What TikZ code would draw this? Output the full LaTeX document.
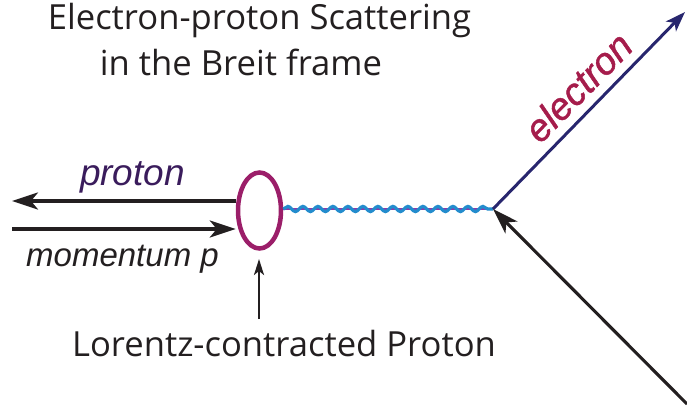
\documentclass[tikz,border=0pt]{standalone}
\usepackage{fontspec}
\setmainfont{Open Sans}
\newfontfamily\helv{Liberation Sans}
\newfontfamily\helvfat[FakeBold=1.2]{Liberation Sans}
\usetikzlibrary{arrows.meta,decorations.pathmorphing,shapes.geometric}
\definecolor{txtgray}{RGB}{35,31,32}
\definecolor{ellcol}{RGB}{155,30,105}
\definecolor{navy}{RGB}{40,38,110}
\definecolor{elred}{RGB}{165,28,75}
\definecolor{protpurple}{RGB}{58,28,92}
\definecolor{wavblue}{RGB}{35,140,205}
\definecolor{wavpurple}{RGB}{140,60,170}
\tikzset{
  titletxt/.style={font=\fontsize{34.6}{40}\selectfont, text=txtgray, inner sep=0pt, anchor=base},
  ital/.style={inner sep=0pt, anchor=base},
  blk/.style={line width=3.1pt, draw=txtgray},
  bigtip/.style={-{Stealth[length=26pt,width=17pt,inset=7pt]}},
}
\begin{document}
\begin{tikzpicture}[x=1pt,y=-1pt]
\useasboundingbox (0,0) rectangle (687,417);
% titles
\node[titletxt] (t1) at (259.5,30) {Electron-proton Scattering};
\node[titletxt] (t2) at (241,76) {in the Breit frame};
\node[titletxt] (lc) at (284,356) {Lorentz-contracted Proton};
% labels
\node[ital, font=\helv\itshape\fontsize{37}{40}\selectfont, text=protpurple] (prot) at (132.5,185) {proton};
\node[ital, font=\helv\itshape\fontsize{33}{40}\selectfont, text=txtgray] (mom) at (122.5,266) {momentum p};
% proton ellipse
\node[draw=ellcol, line width=4.5pt, ellipse, inner sep=0pt, minimum width=43pt, minimum height=76pt] (ell) at (259.5,210.5) {};
% coordinates
\coordinate (v) at (493,209);
\coordinate (eout) at (685,12);
\coordinate (ein) at (687,404);
\coordinate (pl) at (12,201);
\coordinate (ml) at (12,229);
\coordinate (ar) at (259,319);
% proton momentum arrows
\draw[blk, bigtip] (ell.west |- pl) -- (pl);
\draw[blk, bigtip] (ml) -- (ml -| ell.west);
% small arrow
\draw[line width=2.4pt, draw=txtgray, -{Stealth[length=16pt,width=10pt,inset=4pt]}] (ar) -- (259,259);
% photon
\draw[line width=2pt, wavpurple] (ell.east |- v) -- (v);
\draw[line width=3.2pt, wavblue, decorate, decoration={snake, segment length=15pt, amplitude=2.6pt}] (ell.east |- v) -- (v);
% electron lines
\draw[line width=3pt, navy, -{Stealth[length=20pt,width=14pt,inset=5pt]}] (v) -- (eout);
\draw[blk, -{Stealth[length=26pt,width=17pt,inset=7pt]}] (ein) -- (v);
\node[font=\helvfat\itshape\fontsize{38}{40}\selectfont, text=elred, rotate=45.5, inner sep=0pt] (el) at (578,87) {electron};
\end{tikzpicture}
\end{document}
